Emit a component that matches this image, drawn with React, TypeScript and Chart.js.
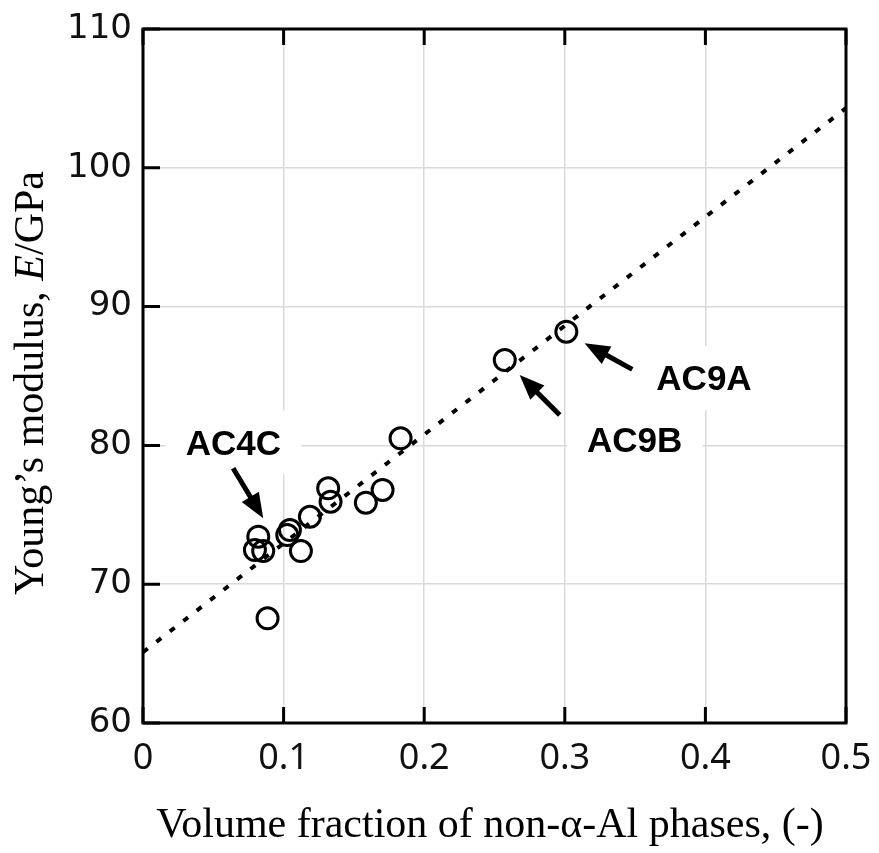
import React, { useEffect, useRef } from 'react';
import { Chart, registerables } from 'chart.js';

Chart.register(...registerables);

// Measured data: volume fraction of non-α-Al phases vs Young's modulus (GPa)
const fractionX = [0.0796, 0.082, 0.0855, 0.0886, 0.1026, 0.1045, 0.1123, 0.1187, 0.1317, 0.1334, 0.1585, 0.1704, 0.1832, 0.2573, 0.3011];
const modulusY = [72.46, 73.42, 72.39, 67.54, 73.54, 73.9, 72.39, 74.86, 76.91, 75.94, 75.87, 76.79, 80.51, 86.15, 88.19];

// Fitted trend line (dotted)
const trendX = [0, 0.5];
const trendY = [65.1, 104.3];

// Axis ticks
const xTicks = [0, 0.1, 0.2, 0.3, 0.4, 0.5];
const xTickLabels = ['0', '0.1', '0.2', '0.3', '0.4', '0.5'];
const yTicks = [60, 70, 80, 90, 100, 110];
const yTickLabels = ['60', '70', '80', '90', '100', '110'];

// Annotations (data coordinates)
const labelNames = ['AC4C', 'AC9A', 'AC9B'];
const labelX = [0.0643, 0.399, 0.3497];
const labelY = [80.21, 84.86, 80.43];
const arrowFromX = [0.0641, 0.348, 0.2964];
const arrowFromY = [78.35, 85.48, 82.19];
const arrowToX = [0.0855, 0.3141, 0.2679];
const arrowToY = [74.75, 87.36, 85.07];

const xTitle = 'Volume fraction of non-α-Al phases, (-)';
const yTitleParts = [
  { text: 'Young’s modulus, ', italic: false },
  { text: 'E', italic: true },
  { text: '/GPa', italic: false },
];

const LABEL_FONT = 'bold 35px "Liberation Sans", Arial, sans-serif';
const SERIF = '"Liberation Serif", "Times New Roman", serif';

function drawArrow(ctx: CanvasRenderingContext2D, x0: number, y0: number, x1: number, y1: number) {
  const ang = Math.atan2(y1 - y0, x1 - x0);
  const headLen = 25;
  const headHalf = 10;
  const bx = x1 - Math.cos(ang) * headLen;
  const by = y1 - Math.sin(ang) * headLen;
  ctx.beginPath();
  ctx.moveTo(x0, y0);
  ctx.lineTo(bx + Math.cos(ang) * 2, by + Math.sin(ang) * 2);
  ctx.lineWidth = 5;
  ctx.lineCap = 'butt';
  ctx.stroke();
  ctx.beginPath();
  ctx.moveTo(x1, y1);
  ctx.lineTo(bx + Math.cos(ang + Math.PI / 2) * headHalf, by + Math.sin(ang + Math.PI / 2) * headHalf);
  ctx.lineTo(bx - Math.cos(ang + Math.PI / 2) * headHalf, by - Math.sin(ang + Math.PI / 2) * headHalf);
  ctx.closePath();
  ctx.fill();
}

const decorPlugin = {
  id: 'decor',
  beforeDatasetsDraw(chart: any) {
    const { ctx, chartArea: a, scales } = chart;
    const x = scales.x;
    const y = scales.y;
    ctx.save();
    // white backgrounds behind annotation labels (hide grid lines)
    ctx.font = LABEL_FONT;
    labelNames.forEach((t, i) => {
      const cx = x.getPixelForValue(labelX[i]);
      const cy = y.getPixelForValue(labelY[i]);
      const w = ctx.measureText(t).width;
      ctx.fillStyle = '#ffffff';
      ctx.fillRect(cx - w / 2 - 20, cy - 13 - 19, w + 40, 26 + 38);
    });
    // frame
    ctx.strokeStyle = '#000';
    ctx.lineWidth = 3;
    ctx.strokeRect(a.left, a.top, a.right - a.left, a.bottom - a.top);
    // inward ticks
    ctx.lineWidth = 3;
    ctx.beginPath();
    yTicks.forEach((v) => {
      const py = y.getPixelForValue(v);
      ctx.moveTo(a.left, py);
      ctx.lineTo(a.left + 17, py);
    });
    xTicks.forEach((v) => {
      const px = x.getPixelForValue(v);
      ctx.moveTo(px, a.top);
      ctx.lineTo(px, a.top + 16);
      ctx.moveTo(px, a.bottom);
      ctx.lineTo(px, a.bottom - 16);
    });
    ctx.stroke();
    ctx.restore();
  },
  afterDatasetsDraw(chart: any) {
    const { ctx, chartArea: a, scales } = chart;
    const x = scales.x;
    const y = scales.y;
    ctx.save();
    ctx.fillStyle = '#000';
    ctx.strokeStyle = '#000';
    // labels
    ctx.font = LABEL_FONT;
    ctx.textAlign = 'center';
    ctx.textBaseline = 'alphabetic';
    labelNames.forEach((t, i) => {
      const cx = x.getPixelForValue(labelX[i]);
      const cy = y.getPixelForValue(labelY[i]);
      ctx.fillText(t, cx, cy + 12.5);
    });
    // arrows
    labelNames.forEach((_, i) => {
      drawArrow(
        ctx,
        x.getPixelForValue(arrowFromX[i]),
        y.getPixelForValue(arrowFromY[i]),
        x.getPixelForValue(arrowToX[i]),
        y.getPixelForValue(arrowToY[i])
      );
    });
    // x title
    ctx.font = `42px ${SERIF}`;
    ctx.textAlign = 'center';
    ctx.fillText(xTitle, 490, 837);
    // y title (rotated, mixed italics)
    const fontFor = (it: boolean) => `${it ? 'italic ' : ''}42px ${SERIF}`;
    let total = 0;
    const widths = yTitleParts.map((p) => {
      ctx.font = fontFor(p.italic);
      const w = ctx.measureText(p.text).width;
      total += w;
      return w;
    });
    ctx.translate(43, 383);
    ctx.rotate(-Math.PI / 2);
    ctx.textAlign = 'left';
    let pos = -total / 2;
    yTitleParts.forEach((p, i) => {
      ctx.font = fontFor(p.italic);
      ctx.fillText(p.text, pos, 0);
      pos += widths[i];
    });
    ctx.restore();
  },
};

export default function App() {
  const canvasRef = useRef<HTMLCanvasElement | null>(null);

  useEffect(() => {
    document.body.style.margin = '0';
    const canvas = canvasRef.current;
    if (!canvas) return;
    const chart = new Chart(canvas, {
      type: 'scatter',
      data: {
        datasets: [
          {
            type: 'line',
            label: 'trend',
            data: trendX.map((v, i) => ({ x: v, y: trendY[i] })),
            showLine: true,
            pointRadius: 0,
            borderColor: '#000',
            borderWidth: 4,
            borderDash: [6, 11],
            fill: false,
          } as any,
          {
            type: 'scatter',
            label: 'data',
            data: fractionX.map((v, i) => ({ x: v, y: modulusY[i] })),
            pointRadius: 10.5,
            pointBorderWidth: 3,
            pointBorderColor: '#000',
            pointBackgroundColor: 'rgba(0,0,0,0)',
          } as any,
        ],
      },
      options: {
        responsive: false,
        animation: false,
        events: [],
        layout: { padding: { left: 0, right: 33, top: 29, bottom: 0 } },
        plugins: {
          legend: { display: false },
          tooltip: { enabled: false },
          title: { display: false },
        },
        scales: {
          x: {
            type: 'linear',
            min: 0,
            max: 0.5,
            afterBuildTicks: (s: any) => {
              s.ticks = xTicks.map((v) => ({ value: v }));
            },
            afterFit: (s: any) => {
              s.height = 853 - 723;
              s.paddingLeft = 0;
              s.paddingRight = 0;
            },
            border: { display: false },
            grid: { color: '#dadada', lineWidth: 1.5, drawTicks: false },
            ticks: {
              padding: 14,
              color: '#111',
              font: { family: '"Noto Sans", sans-serif', size: 36 },
              callback: (v: any) => {
                const i = xTicks.findIndex((t) => Math.abs(t - v) < 1e-9);
                return i >= 0 ? xTickLabels[i] : '';
              },
              maxRotation: 0,
              autoSkip: false,
            },
          },
          y: {
            type: 'linear',
            min: 60,
            max: 110,
            afterBuildTicks: (s: any) => {
              s.ticks = yTicks.map((v) => ({ value: v }));
            },
            afterFit: (s: any) => {
              s.width = 143;
              s.paddingTop = 0;
              s.paddingBottom = 0;
            },
            border: { display: false },
            grid: { color: '#dadada', lineWidth: 1.5, drawTicks: false },
            ticks: {
              padding: 11,
              color: '#111',
              font: { family: '"DejaVu Sans", sans-serif', size: 34 },
              callback: (v: any) => {
                const i = yTicks.findIndex((t) => Math.abs(t - v) < 1e-9);
                return i >= 0 ? yTickLabels[i] : '';
              },
              autoSkip: false,
            },
          },
        },
      },
      plugins: [decorPlugin],
    });
    return () => chart.destroy();
  }, []);

  return (
    <div style={{ width: 879, height: 853, background: '#fff' }}>
      <canvas ref={canvasRef} width={879} height={853} style={{ display: 'block' }} />
    </div>
  );
}
